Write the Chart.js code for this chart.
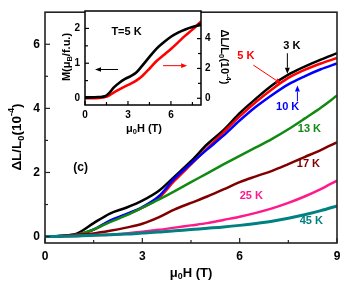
<!DOCTYPE html>
<html><head><meta charset="utf-8">
<script src="https://cdn.jsdelivr.net/npm/chart.js@4.4.0/dist/chart.umd.min.js"></script>
<style>
html,body{margin:0;padding:0;background:#fff}
#wrap{position:relative;width:353px;height:293px}
canvas{position:absolute;left:0;top:0}
</style>
</head><body>
<div id="wrap"><canvas id="main" width="353" height="293"></canvas><canvas id="inset" width="353" height="293"></canvas></div>
<script>
// ---------- data (main panel): field in T, ΔL/L0 in 1e-4 ----------
const FIELD = [0,0.5,1,1.5,2,2.5,3,3.5,4,4.5,5,5.5,6,6.5,7,7.5,8,8.5,9];
const T3K  = [0,0.02,0.1,0.42,0.72,0.9,1.12,1.42,1.88,2.35,2.88,3.32,3.85,4.3,4.72,5.05,5.3,5.52,5.72];
const T5K  = [0,0.02,0.06,0.22,0.48,0.68,0.9,1.2,1.75,2.25,2.75,3.25,3.75,4.2,4.6,4.95,5.2,5.4,5.57];
const T10K = [0,0.02,0.06,0.22,0.5,0.7,0.92,1.25,1.82,2.28,2.72,3.15,3.62,4.05,4.42,4.75,5.0,5.22,5.4];
const T13K = [0,0.02,0.06,0.22,0.45,0.66,0.9,1.15,1.42,1.7,1.97,2.25,2.52,2.78,3.05,3.35,3.68,4.02,4.4];
const T17K = [0,0.02,0.06,0.1,0.18,0.28,0.4,0.6,0.85,1.05,1.25,1.47,1.7,1.88,2.05,2.26,2.48,2.7,2.94];
const T25K = [0,0.01,0.02,0.04,0.06,0.1,0.15,0.21,0.28,0.35,0.42,0.52,0.62,0.74,0.88,1.05,1.25,1.48,1.75];
const T45K = [0,0.01,0.02,0.04,0.06,0.08,0.11,0.14,0.18,0.22,0.26,0.3,0.35,0.41,0.48,0.57,0.68,0.81,0.96];
const SERIES_NAMES = ['3 K','5 K','10 K','13 K','17 K','25 K','45 K'];
const SERIES_COLORS = ['#000000','#ff0000','#0000ff','#128a12','#800000','#ff1a8c','#008080'];

// ---------- data (inset, T = 5 K) ----------
const INSET_FIELD = [0,0.5,1,1.4,1.7,2,2.4,2.8,3.2,3.6,4,4.5,5,5.5,6,6.5,7,7.5,8.1];
const INSET_M     = [0.02,0.02,0.03,0.05,0.15,0.3,0.44,0.55,0.63,0.74,0.93,1.18,1.42,1.6,1.76,1.88,1.97,2.04,2.1];
const INSET_DL    = [0,0,0.03,0.08,0.2,0.38,0.6,0.8,0.98,1.2,1.5,1.98,2.5,2.9,3.3,3.75,4.2,4.6,5.15];

// ---------- tick labels ----------
const MAIN_X_TICKS = [0,3,6,9];
const MAIN_Y_TICKS = [0,2,4,6];
const INSET_X_TICKS = [0,3,6];
const INSET_YL_TICKS = [0,1,2];
const INSET_YR_TICKS = [0,2,4];

const FONT = '"Liberation Sans", Arial, Helvetica, sans-serif';

function pts(xs, ys){ return xs.map((x,i)=>({x:x, y:ys[i]})); }

function richText(ctx, segs, x, y, rot, size, color, weight){
  ctx.save();
  ctx.translate(x,y); ctx.rotate(rot);
  ctx.fillStyle = color; ctx.textBaseline = 'middle'; ctx.textAlign = 'left';
  const w = weight || 'bold';
  let total = 0;
  const meas = segs.map(s=>{
    const fs = (s.sub||s.sup) ? size*0.68 : size;
    ctx.font = w+' '+fs+'px '+FONT;
    const m = ctx.measureText(s.t).width; total += m; return {fs,m};
  });
  let cx = -total/2;
  segs.forEach((s,i)=>{
    ctx.font = w+' '+meas[i].fs+'px '+FONT;
    let dy = 0; if (s.sub) dy = size*0.3; if (s.sup) dy = -size*0.38;
    ctx.fillText(s.t, cx, dy); cx += meas[i].m;
  });
  ctx.restore();
}

function arrow(ctx, x1,y1,x2,y2,color,hl,hw,lw){
  ctx.save();
  ctx.strokeStyle = color; ctx.fillStyle = color; ctx.lineWidth = lw||1;
  const a = Math.atan2(y2-y1,x2-x1);
  const bx = x2 - hl*Math.cos(a), by = y2 - hl*Math.sin(a);
  ctx.beginPath(); ctx.moveTo(x1,y1); ctx.lineTo(bx,by); ctx.stroke();
  ctx.beginPath(); ctx.moveTo(x2,y2);
  ctx.lineTo(bx + hw*Math.sin(a), by - hw*Math.cos(a));
  ctx.lineTo(bx - hw*Math.sin(a), by + hw*Math.cos(a));
  ctx.closePath(); ctx.fill();
  ctx.restore();
}

const decorPlugin = {
  id: 'decor',
  beforeDatasetsDraw(chart, args, opts){
    if (opts.whiteArea){
      const a = chart.chartArea, c = chart.ctx;
      c.save(); c.fillStyle = '#fff'; c.fillRect(a.left,a.top,a.right-a.left,a.bottom-a.top); c.restore();
    }
  },
  afterDraw(chart, args, opts){
    const c = chart.ctx, a = chart.chartArea;
    c.save();
    c.strokeStyle = opts.frameColor; c.lineWidth = opts.frameWidth;
    c.strokeRect(a.left, a.top, a.right-a.left, a.bottom-a.top);
    c.lineWidth = 1.2; c.strokeStyle = opts.frameColor;
    (opts.ticks||[]).forEach(t=>{
      const s = chart.scales[t.scale];
      const draw = (v,len)=>{
        const p = s.getPixelForValue(v);
        c.beginPath();
        if (t.side==='bottom'){ c.moveTo(p,a.bottom); c.lineTo(p,a.bottom-len); }
        else if (t.side==='left'){ c.moveTo(a.left,p); c.lineTo(a.left+len,p); }
        else if (t.side==='right'){ c.moveTo(a.right,p); c.lineTo(a.right-len,p); }
        c.stroke();
      };
      t.major.forEach(v=>draw(v,t.majLen));
      t.minor.forEach(v=>draw(v,t.minLen));
    });
    c.restore();
    (opts.labels||[]).forEach(l=>{
      const x = chart.scales[l.xs].getPixelForValue(l.x);
      const y = chart.scales[l.ys].getPixelForValue(l.y);
      c.save(); c.font = 'bold '+l.size+'px '+FONT; c.fillStyle = l.color;
      c.textAlign='center'; c.textBaseline='middle'; c.fillText(l.text,x,y); c.restore();
    });
    (opts.arrows||[]).forEach(r=>{
      const xs = chart.scales[r.xs], ys = chart.scales[r.ys];
      arrow(c, xs.getPixelForValue(r.x1), ys.getPixelForValue(r.y1),
               xs.getPixelForValue(r.x2), ys.getPixelForValue(r.y2), r.color, r.hl, r.hw, r.lw);
    });
    (opts.titles||[]).forEach(t=>richText(c, t.segs, t.x, t.y, t.rot, t.size, '#000', t.weight));
  }
};

const noGrid = {display:false, drawTicks:false, tickLength:0};

// ---------- main chart ----------
const mainSeries = [T3K,T5K,T10K,T13K,T17K,T25K,T45K];
const drawOrder = [6,5,4,3,2,1,0];
new Chart(document.getElementById('main'), {
  type: 'line',
  data: {
    datasets: mainSeries.map((s,i)=>({
      label: SERIES_NAMES[i], data: pts(FIELD, s),
      borderColor: SERIES_COLORS[i], borderWidth: i===6 ? 3 : 2.5,
      pointRadius: 0, fill: false, cubicInterpolationMode: 'monotone',
      order: drawOrder[i]
    }))
  },
  options: {
    responsive: false, animation: false, devicePixelRatio: 1,
    layout: { padding: { top: 10, right: 16, left: 0, bottom: 0 } },
    plugins: {
      legend: { display: false }, tooltip: { enabled: false },
      decor: {
        frameColor: '#222', frameWidth: 1.6,
        ticks: [
          {scale:'x', side:'bottom', major:MAIN_X_TICKS, minor:[1.5,4.5,7.5], majLen:5, minLen:3},
          {scale:'y', side:'left', major:MAIN_Y_TICKS, minor:[1,3,5], majLen:5, minLen:3}
        ],
        labels: [
          {text:'(c)', x:1.1, y:2.14, color:'#000', size:12, xs:'x', ys:'y'},
          {text:'3 K', x:7.61, y:5.95, color:SERIES_COLORS[0], size:11, xs:'x', ys:'y'},
          {text:'5 K', x:6.19, y:5.63, color:SERIES_COLORS[1], size:11, xs:'x', ys:'y'},
          {text:'10 K', x:7.48, y:4.03, color:SERIES_COLORS[2], size:11, xs:'x', ys:'y'},
          {text:'13 K', x:8.15, y:3.37, color:SERIES_COLORS[3], size:11, xs:'x', ys:'y'},
          {text:'17 K', x:8.12, y:2.25, color:SERIES_COLORS[4], size:11, xs:'x', ys:'y'},
          {text:'25 K', x:6.36, y:1.26, color:SERIES_COLORS[5], size:11, xs:'x', ys:'y'},
          {text:'45 K', x:8.21, y:0.49, color:SERIES_COLORS[6], size:11, xs:'x', ys:'y'}
        ],
        arrows: [
          {x1:7.47, y1:5.72, x2:7.47, y2:5.08, color:'#000', hl:6, hw:2.5, lw:1, xs:'x', ys:'y'},
          {x1:6.42, y1:5.35, x2:7.28, y2:4.77, color:'#ff0000', hl:6, hw:2.5, lw:1, xs:'x', ys:'y'},
          {x1:7.78, y1:4.22, x2:7.78, y2:4.71, color:'#0000ff', hl:6, hw:2.5, lw:1, xs:'x', ys:'y'}
        ],
        titles: [
          {segs:[{t:'ΔL/L'},{t:'0',sub:true},{t:'(10'},{t:'-4',sup:true},{t:')'}], x:17, y:137, rot:-Math.PI/2, size:13.5},
          {segs:[{t:'μ'},{t:'0',sub:true},{t:'H (T)'}], x:191, y:273, rot:0, size:13}
        ]
      }
    },
    scales: {
      x: {
        type:'linear', min:0, max:9,
        grid:noGrid, border:{display:false},
        afterBuildTicks: s => { s.ticks = MAIN_X_TICKS.map(v=>({value:v})); },
        afterFit: s => { s.height = 50; },
        ticks:{ color:'#000', font:{family:FONT, size:12, weight:'bold'}, padding:6, maxRotation:0, autoSkip:false }
      },
      y: {
        type:'linear', min:-0.2, max:7,
        grid:noGrid, border:{display:false},
        afterBuildTicks: s => { s.ticks = MAIN_Y_TICKS.map(v=>({value:v})); },
        afterFit: s => { s.width = 45; },
        ticks:{ color:'#000', font:{family:FONT, size:12, weight:'bold'}, padding:5, autoSkip:false }
      }
    }
  },
  plugins: [decorPlugin]
});

// ---------- inset chart ----------
new Chart(document.getElementById('inset'), {
  type: 'line',
  data: {
    datasets: [
      {label:'M', data: pts(INSET_FIELD, INSET_M), yAxisID:'y', borderColor:'#000', borderWidth:2.6,
       pointRadius:0, fill:false, cubicInterpolationMode:'monotone', order:0},
      {label:'dL', data: pts(INSET_FIELD, INSET_DL), yAxisID:'y2', borderColor:'#ff0000', borderWidth:2.6,
       pointRadius:0, fill:false, cubicInterpolationMode:'monotone', order:1}
    ]
  },
  options: {
    responsive:false, animation:false, devicePixelRatio:1,
    layout:{ padding:{ top:10, left:0, right:0, bottom:0 } },
    plugins: {
      legend:{display:false}, tooltip:{enabled:false},
      decor: {
        whiteArea: true, frameColor:'#000', frameWidth:1.5,
        ticks: [
          {scale:'x', side:'bottom', major:INSET_X_TICKS, minor:[1.5,4.5,7.5], majLen:4, minLen:3},
          {scale:'y', side:'left', major:INSET_YL_TICKS, minor:[0.5,1.5], majLen:4, minLen:3},
          {scale:'y2', side:'right', major:INSET_YR_TICKS, minor:[1,3,5], majLen:4, minLen:3}
        ],
        labels: [
          {text:'T=5 K', x:2.9, y:1.9, color:'#000', size:11, xs:'x', ys:'y'}
        ],
        arrows: [
          {x1:2.31, y1:0.82, x2:0.70, y2:0.82, color:'#000', hl:6, hw:2.3, lw:1, xs:'x', ys:'y'},
          {x1:5.45, y1:0.93, x2:7.13, y2:0.93, color:'#ff0000', hl:6, hw:2.3, lw:1, xs:'x', ys:'y'}
        ],
        titles: [
          {segs:[{t:'M(μ'},{t:'B',sub:true},{t:'/f.u.)'}], x:67, y:57, rot:-Math.PI/2, size:11},
          {segs:[{t:'μ'},{t:'0',sub:true},{t:'H (T)'}], x:144, y:129, rot:0, size:11},
          {segs:[{t:'ΔL/L'},{t:'0',sub:true},{t:'(10'},{t:'-4',sup:true},{t:')'}], x:224, y:57, rot:Math.PI/2, size:11}
        ]
      }
    },
    scales: {
      x: {
        type:'linear', min:0, max:8.1,
        grid:noGrid, border:{display:false},
        afterBuildTicks: s => { s.ticks = INSET_X_TICKS.map(v=>({value:v})); },
        afterFit: s => { s.height = 188; },
        ticks:{ color:'#000', font:{family:FONT, size:10, weight:'bold'}, padding:4, maxRotation:0, autoSkip:false }
      },
      y: {
        type:'linear', position:'left', min:-0.2, max:2.5,
        grid:noGrid, border:{display:false},
        afterBuildTicks: s => { s.ticks = INSET_YL_TICKS.map(v=>({value:v})); },
        afterFit: s => { s.width = 85; },
        ticks:{ color:'#000', font:{family:FONT, size:10, weight:'bold'}, padding:5, autoSkip:false }
      },
      y2: {
        type:'linear', position:'right', min:-0.45, max:5.85,
        grid:noGrid, border:{display:false},
        afterBuildTicks: s => { s.ticks = INSET_YR_TICKS.map(v=>({value:v})); },
        afterFit: s => { s.width = 152; },
        ticks:{ color:'#000', font:{family:FONT, size:10, weight:'bold'}, padding:4, autoSkip:false }
      }
    }
  },
  plugins: [decorPlugin]
});
</script>
</body></html>
